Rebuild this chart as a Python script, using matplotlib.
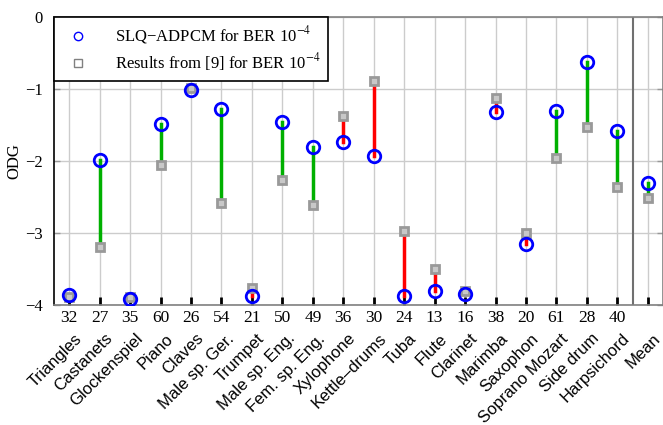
import numpy as np
import matplotlib
matplotlib.use("Agg")
import matplotlib.pyplot as plt

# items and their sample counts
items = ["Triangles", "Castanets", "Glockenspiel", "Piano", "Claves",
         "Male sp. Ger.", "Trumpet", "Male sp. Eng.", "Fem. sp. Eng.",
         "Xylophone", "Kettle\u2013drums", "Tuba", "Flute", "Clarinet",
         "Marimba", "Saxophon", "Soprano Mozart", "Side drum",
         "Harpsichord", "Mean"]
counts = ["32", "27", "35", "60", "26", "54", "21", "50", "49", "36",
          "30", "24", "13", "16", "38", "20", "61", "28", "40", ""]

# ODG values
odg_slq = [-3.86, -1.99, -3.92, -1.49, -1.01, -1.28, -3.875, -1.46, -1.80,
           -1.73, -1.93, -3.88, -3.81, -3.85, -1.32, -3.15, -1.30, -0.625,
           -1.59, -2.31]
odg_ref = [-3.89, -3.19, -3.89, -2.06, -0.98, -2.58, -3.77, -2.27, -2.61,
           -1.38, -0.89, -2.97, -3.50, -3.80, -1.13, -3.00, -1.96, -1.53,
           -2.36, -2.51]

plt.rcParams['font.family'] = ['Liberation Serif', 'DejaVu Serif']
plt.rcParams['mathtext.fontset'] = 'stix'

fig = plt.figure(figsize=(6.63, 4.25), dpi=100)
ax = fig.add_axes([54 / 663, 1 - 305 / 425, 1 - 54 / 663, 288 / 425])

x = np.arange(1, len(items) + 1)

# difference lines
for xi, a, b in zip(x, odg_slq, odg_ref):
    col = '#00b000' if a > b else '#ff0000'
    ax.plot([xi, xi], [a, b], color=col, lw=2.5, zorder=3)

ax.plot(x, odg_ref, 's', ms=6, mfc='#c8c8c8', mec='#999999', mew=2,
        zorder=4)
ax.plot(x, odg_slq, 'o', ms=9, mfc='none', mec='#0000ff', mew=2, zorder=5)

# legend proxies
h1, = ax.plot([], [], 'o', ms=6, mfc='none', mec='#0000ff', mew=1)
h2, = ax.plot([], [], 's', ms=6, mfc='none', mec='#808080', mew=1)
leg = ax.legend([h1, h2],
                ['SLQ\u2212ADPCM for BER 10$^{-4}$',
                 'Results from [9] for BER 10$^{-4}$'],
                loc='upper left', bbox_to_anchor=(0, 1), borderaxespad=0,
                fontsize=12, fancybox=False, framealpha=1, edgecolor='black',
                handletextpad=1.2, borderpad=0.45, labelspacing=0.3)
leg.get_frame().set_linewidth(1.2)
leg.set_zorder(10)

# separator before mean
ax.axvline(19.5, color='#707070', lw=1.5, zorder=2)

ax.set_xlim(0.5, 20.5)
ax.set_ylim(-4, 0)
ax.set_yticks([-4, -3, -2, -1, 0])
ax.set_yticklabels(['\u22124', '\u22123', '\u22122', '\u22121', '0'])
ax.set_xticks(x)
ax.set_xticklabels([])
ax.grid(True, color='#cccccc', lw=1)
ax.set_axisbelow(True)
ax.tick_params(axis='x', direction='in', length=6, width=2, color='black')
ax.tick_params(axis='y', direction='in', length=4, width=1, color='#999999',
               labelsize=12, pad=8, right=True)

for s in ['top', 'bottom', 'right']:
    ax.spines[s].set_color('#808080')
    ax.spines[s].set_linewidth(1.2)
ax.spines['left'].set_color('black')
ax.spines['left'].set_linewidth(1.2)

ax.set_ylabel('ODG', fontsize=12, labelpad=2)

# counts and item names below the axis
trans = ax.get_xaxis_transform()
for xi, c, name in zip(x, counts, items):
    ax.text(xi, -0.045, c, transform=trans, ha='center', va='center',
            fontsize=12.5)
    ax.text(xi + 0.15, -0.09, name, transform=trans, ha='right', va='top',
            rotation=45, rotation_mode='anchor', fontsize=12,
            family=['Liberation Sans', 'DejaVu Sans'])

fig.savefig('out.png', dpi=100)
